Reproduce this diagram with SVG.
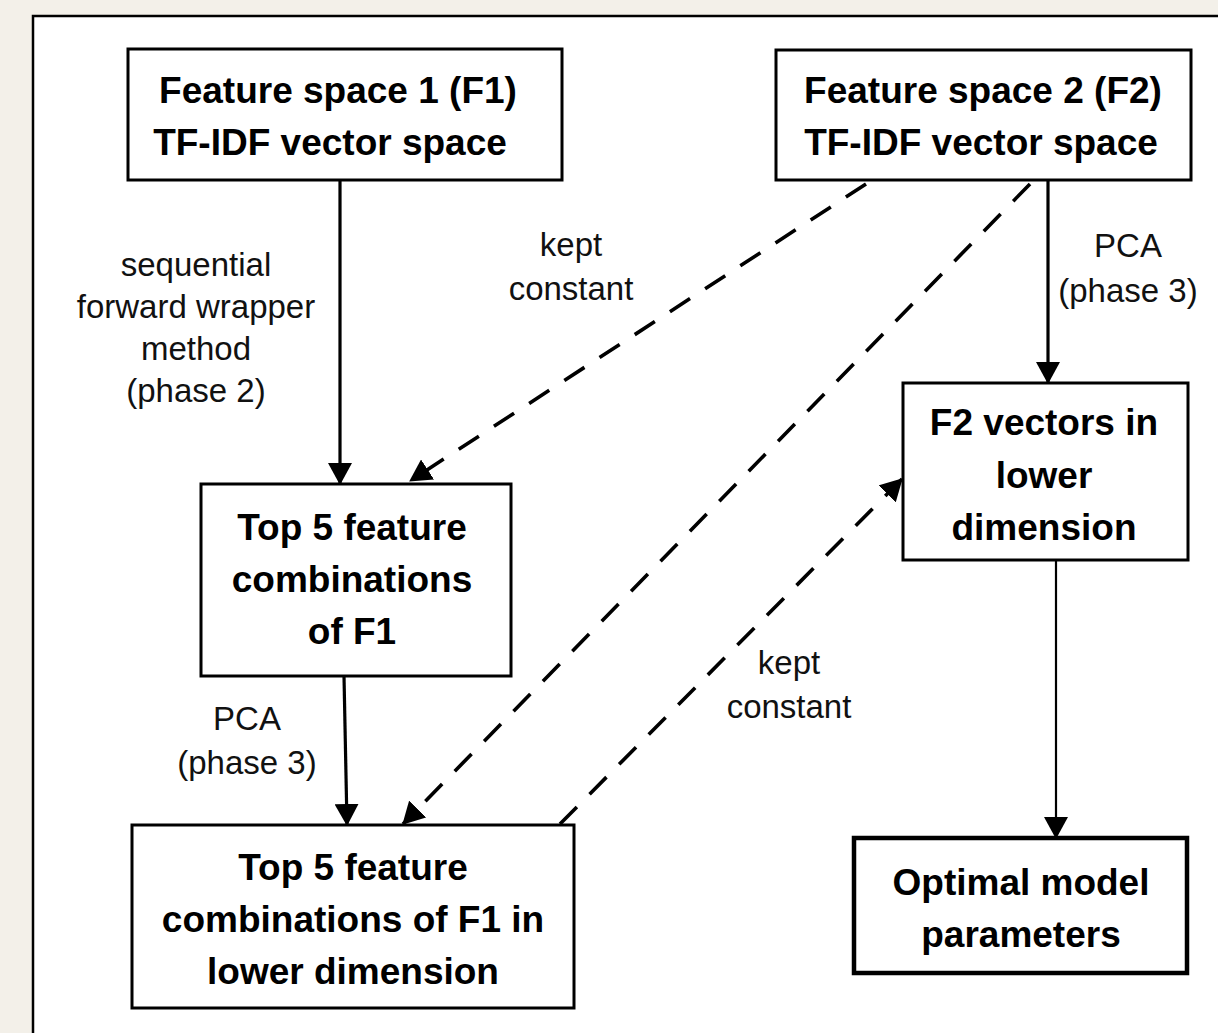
<svg xmlns="http://www.w3.org/2000/svg" width="1218" height="1033" viewBox="0 0 1218 1033">
<defs>
<style>
.box{fill:#fff;stroke:#000;stroke-width:3}
.bt{font-family:"Liberation Sans",Arial,sans-serif;font-weight:bold;font-size:37px;fill:#000;text-anchor:middle}
.lt{font-family:"Liberation Sans",Arial,sans-serif;font-size:33px;fill:#111;text-anchor:middle}
.c{fill:none;stroke:#000;stroke-width:3.2}
.d{stroke-dasharray:24 18;stroke-width:3.6}
</style>
<marker id="ah" markerUnits="userSpaceOnUse" markerWidth="22" markerHeight="24" viewBox="0 0 22 24" refX="21" refY="12" orient="auto">
<path d="M0,0 L22,12 L0,24 z" fill="#000"/>
</marker>
</defs>
<rect x="0" y="0" width="1218" height="1033" fill="#f3f0e9"/>
<rect x="33" y="16" width="1200" height="1040" fill="#fff" stroke="#000" stroke-width="2.5"/>
<g id="connectors">
<path class="c" d="M340,180 L340,484" marker-end="url(#ah)"/>
<path class="c" d="M1048,180 L1048,383" marker-end="url(#ah)"/>
<path class="c" d="M344,676 L347,825" marker-end="url(#ah)"/>
<path class="c" style="stroke-width:2.2" d="M1056,560 L1056,838" marker-end="url(#ah)"/>
<path class="c d" d="M866,184 L410,481" marker-end="url(#ah)"/>
<path class="c d" d="M1030,184 L403,824" marker-end="url(#ah)"/>
<path class="c d" d="M560,824 L902,479" marker-end="url(#ah)"/>
</g>
<g id="labels">
<text class="lt" x="196" y="276">sequential</text>
<text class="lt" x="196" y="318">forward wrapper</text>
<text class="lt" x="196" y="360">method</text>
<text class="lt" x="196" y="402">(phase 2)</text>
<text class="lt" x="571" y="256">kept</text>
<text class="lt" x="571" y="300">constant</text>
<text class="lt" x="1128" y="257">PCA</text>
<text class="lt" x="1128" y="302">(phase 3)</text>
<text class="lt" x="247" y="730">PCA</text>
<text class="lt" x="247" y="774">(phase 3)</text>
<text class="lt" x="789" y="674">kept</text>
<text class="lt" x="789" y="718">constant</text>
</g>
<g id="n-f1">
<rect class="box" x="128" y="49" width="434" height="131"/>
<text class="bt" x="338" y="103">Feature space 1 (F1)</text>
<text class="bt" x="330" y="155">TF-IDF vector space</text>
</g>
<g id="n-f2">
<rect class="box" x="776" y="50" width="415" height="130"/>
<text class="bt" x="983" y="103">Feature space 2 (F2)</text>
<text class="bt" x="981" y="155">TF-IDF vector space</text>
</g>
<g id="n-top5">
<rect class="box" x="201" y="484" width="310" height="192"/>
<text class="bt" x="352" y="540">Top 5 feature</text>
<text class="bt" x="352" y="592">combinations</text>
<text class="bt" x="352" y="644">of F1</text>
</g>
<g id="n-f2low">
<rect class="box" x="903" y="383" width="285" height="177"/>
<text class="bt" x="1044" y="435">F2 vectors in</text>
<text class="bt" x="1044" y="488">lower</text>
<text class="bt" x="1044" y="540">dimension</text>
</g>
<g id="n-top5low">
<rect class="box" x="132" y="825" width="442" height="183"/>
<text class="bt" x="353" y="880">Top 5 feature</text>
<text class="bt" x="353" y="932">combinations of F1 in</text>
<text class="bt" x="353" y="984">lower dimension</text>
</g>
<g id="n-opt">
<rect class="box" style="stroke-width:4.5" x="854" y="838" width="333" height="135"/>
<text class="bt" x="1021" y="895">Optimal model</text>
<text class="bt" x="1021" y="947">parameters</text>
</g>
</svg>
